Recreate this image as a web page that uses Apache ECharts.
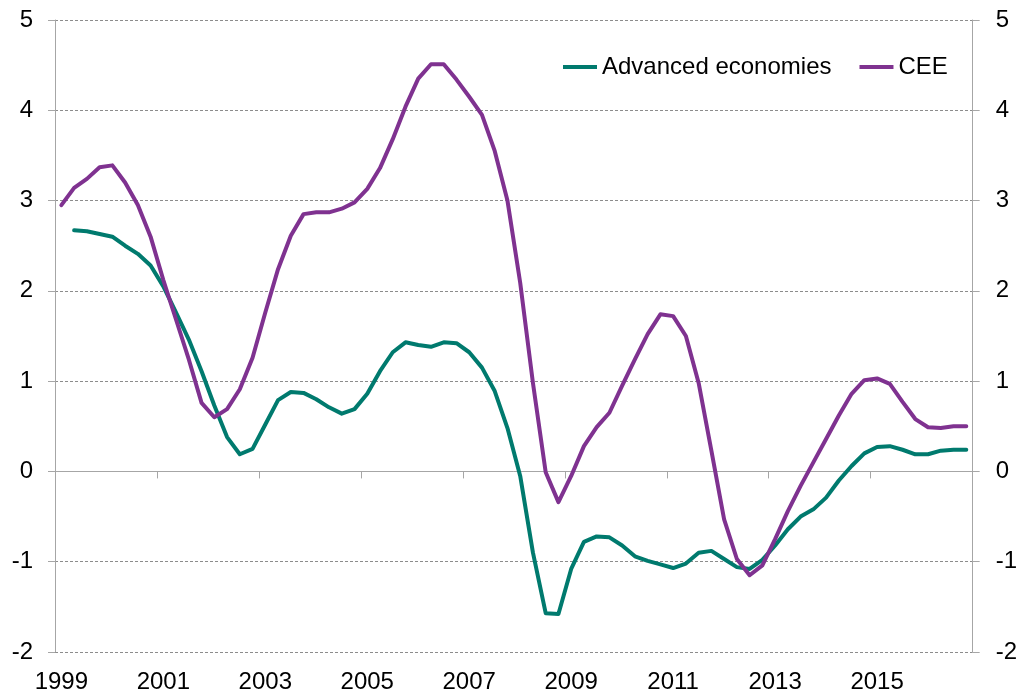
<!DOCTYPE html>
<html>
<head>
<meta charset="utf-8">
<script src="https://cdn.jsdelivr.net/npm/echarts@6/dist/echarts.min.js"></script>
<style>
  html, body { margin: 0; padding: 0; background: #fff; }
  #chart { width: 1020px; height: 694px; }
</style>
</head>
<body>
<div id="chart"></div>
<script>
// quarterly categories 1999Q1 .. 2016Q4
const years = [1999, 2000, 2001, 2002, 2003, 2004, 2005, 2006, 2007, 2008,
  2009, 2010, 2011, 2012, 2013, 2014, 2015, 2016];
const quarters = [];
years.forEach((y) => {
  for (let q = 1; q <= 4; q++) quarters.push(y + "Q" + q);
});

const advanced = [null, 2.67, 2.66, 2.63, 2.60, 2.50, 2.41, 2.28, 2.05, 1.76,
  1.46, 1.11, 0.73, 0.38, 0.19, 0.25, 0.52, 0.79, 0.88, 0.87,
  0.80, 0.71, 0.64, 0.69, 0.86, 1.11, 1.32, 1.43, 1.40, 1.38,
  1.43, 1.42, 1.32, 1.15, 0.89, 0.48, -0.05, -0.90, -1.57, -1.58,
  -1.08, -0.78, -0.72, -0.73, -0.82, -0.94, -0.99, -1.03, -1.07, -1.02,
  -0.90, -0.88, -0.97, -1.06, -1.08, -0.98, -0.82, -0.64, -0.50, -0.42,
  -0.29, -0.10, 0.06, 0.20, 0.27, 0.28, 0.24, 0.19, 0.19, 0.23,
  0.24, 0.24];

const cee = [2.95, 3.14, 3.24, 3.37, 3.39, 3.20, 2.95, 2.60, 2.12, 1.68,
  1.24, 0.76, 0.60, 0.69, 0.91, 1.26, 1.76, 2.24, 2.61, 2.85,
  2.87, 2.87, 2.91, 2.98, 3.13, 3.36, 3.68, 4.04, 4.35, 4.51,
  4.51, 4.34, 4.15, 3.95, 3.55, 3.00, 2.09, 0.98, -0.01, -0.34,
  -0.05, 0.28, 0.49, 0.65, 0.95, 1.24, 1.52, 1.74, 1.72, 1.50,
  0.98, 0.23, -0.53, -0.97, -1.15, -1.04, -0.75, -0.44, -0.16, 0.10,
  0.36, 0.62, 0.86, 1.01, 1.03, 0.97, 0.77, 0.58, 0.49, 0.48,
  0.50, 0.50];

const yMin = -2;
const yMax = 5;

const font = '"Liberation Sans", Arial, sans-serif';
const axisGray = "#a6a6a6";

const chart = echarts.init(document.getElementById("chart"));

const yAxisBase = {
  type: "value",
  min: yMin,
  max: yMax,
  interval: 1,
  axisLine: { show: true, lineStyle: { color: axisGray, width: 1 } },
  axisTick: { show: true, length: 7, lineStyle: { color: axisGray } },
  axisLabel: { color: "#000", fontSize: 24, fontFamily: font }
};

chart.setOption({
  animation: false,
  backgroundColor: "#fff",
  textStyle: { fontFamily: font },
  grid: { left: 55, right: 45, top: 20, bottom: 41 },
  legend: {
    left: 563,
    top: 55,
    padding: 0,
    itemWidth: 34,
    itemHeight: 4,
    itemGap: 28,
    icon: "rect",
    textStyle: { color: "#000", fontSize: 24, fontFamily: font },
    data: ["Advanced economies", "CEE"]
  },
  xAxis: [
    {
      type: "category",
      data: quarters,
      boundaryGap: true,
      axisLine: { show: true, onZero: true, lineStyle: { color: axisGray, width: 1 } },
      axisTick: { show: true, interval: 7, length: 7, lineStyle: { color: axisGray } },
      axisLabel: { show: false },
      splitLine: { show: false }
    },
    {
      type: "category",
      data: quarters,
      position: "bottom",
      boundaryGap: true,
      axisLine: { show: false, onZero: false },
      axisTick: { show: false },
      axisLabel: {
        interval: 7,
        margin: 18,
        color: "#000",
        fontSize: 24,
        fontFamily: font,
        formatter: (v) => v.slice(0, 4)
      },
      splitLine: { show: false }
    }
  ],
  yAxis: [
    Object.assign({}, yAxisBase, {
      position: "left",
      axisLabel: Object.assign({}, yAxisBase.axisLabel, { margin: 22 }),
      splitLine: { show: true, lineStyle: { color: "#8c8c8c", type: [3, 2], width: 1 } }
    }),
    Object.assign({}, yAxisBase, {
      position: "right",
      axisLabel: Object.assign({}, yAxisBase.axisLabel, { margin: 23 }),
      splitLine: { show: false }
    })
  ],
  series: [
    {
      name: "Advanced economies",
      type: "line",
      xAxisIndex: 0,
      yAxisIndex: 0,
      data: advanced,
      showSymbol: false,
      symbol: "none",
      connectNulls: false,
      itemStyle: { color: "#007a6e" },
      lineStyle: { color: "#007a6e", width: 4, join: "round", cap: "round" }
    },
    {
      name: "CEE",
      type: "line",
      xAxisIndex: 0,
      yAxisIndex: 0,
      data: cee,
      showSymbol: false,
      symbol: "none",
      itemStyle: { color: "#7f3290" },
      lineStyle: { color: "#7f3290", width: 4, join: "round", cap: "round" }
    }
  ]
});
</script>
</body>
</html>
